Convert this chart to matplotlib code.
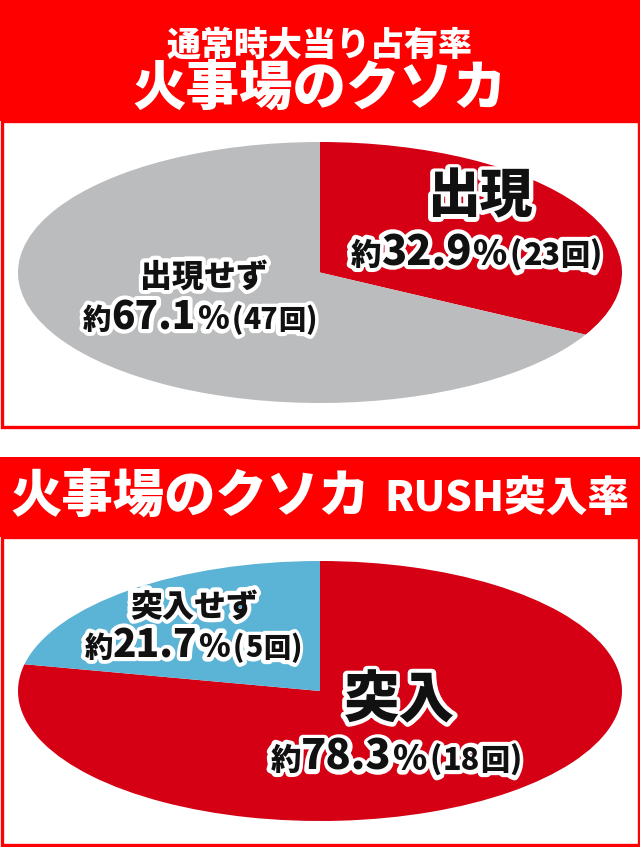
import matplotlib
matplotlib.use("Agg")
import matplotlib.pyplot as plt
import matplotlib.patheffects as pe
from matplotlib.patches import Rectangle

plt.rcParams['font.family'] = ['Noto Sans CJK JP', 'DejaVu Sans']

# ---- data ----
title1_sub = "通常時大当り占有率"
title1_main = "火事場のクソカ"
title2_main = "火事場のクソカ"
title2_sub = "RUSH突入率"

chart1_labels = ["出現", "出現せず"]
chart1_pct = [32.9, 67.1]
chart1_count = [23, 47]

chart2_labels = ["突入", "突入せず"]
chart2_pct = [78.3, 21.7]
chart2_count = [18, 5]

RED_HDR = "#FF0000"
RED_SLICE = "#D50014"
GRAY = "#BBBCBE"
BLUE = "#5BB3D6"

W, H = 640, 847
fig = plt.figure(figsize=(W / 100, H / 100), dpi=100)
bg = fig.add_axes([0, 0, 1, 1])
bg.set_xlim(0, W)
bg.set_ylim(H, 0)
bg.axis("off")

# header 1 + box 1
bg.add_patch(Rectangle((0, 0), W, 121, facecolor=RED_HDR, edgecolor="none"))
bg.add_patch(Rectangle((1.5, 121), W - 3, 306, facecolor="white", edgecolor=RED_HDR, linewidth=2.4))
# header 2 + box 2
bg.add_patch(Rectangle((0, 457), W, 80, facecolor=RED_HDR, edgecolor="none"))
bg.add_patch(Rectangle((1.5, 537), W - 3, H - 537 - 1.5, facecolor="white", edgecolor=RED_HDR, linewidth=2.4))

HW = 900
bg.text(320, 45, title1_sub, color="white", fontsize=24.5, fontweight=HW, ha="center", va="center")
bg.text(320, 89, title1_main, color="white", fontsize=38.5, fontweight=HW, ha="center", va="center")
bg.text(10, 497, title2_main, color="white", fontsize=37, fontweight=HW, ha="left", va="center")
bg.text(629, 499, title2_sub, color="white", fontsize=30, fontweight=HW, ha="right", va="center")


def pie_axes(x0, x1, y0, y1):
    return fig.add_axes([x0 / W, 1 - y1 / H, (x1 - x0) / W, (y1 - y0) / H])


def draw_pie(ax, vals, colors):
    ax.pie(vals, colors=colors, startangle=90, counterclock=False,
           wedgeprops=dict(linewidth=0), radius=1)
    ax.set_aspect("auto")
    ax.set_xlim(-1, 1)
    ax.set_ylim(-1, 1)
    ax.axis("off")


ax1 = pie_axes(18, 622, 142, 403)
draw_pie(ax1, chart1_pct, [RED_SLICE, GRAY])
ax2 = pie_axes(18, 622, 561, 821)
draw_pie(ax2, chart2_pct, [RED_SLICE, BLUE])

# overlay for labels (on top of pies)
ov = fig.add_axes([0, 0, 1, 1])
ov.set_xlim(0, W)
ov.set_ylim(H, 0)
ov.axis("off")
ov.patch.set_alpha(0)

renderer = fig.canvas.get_renderer()
STROKE_W = 6


def lbl(x, y, s, size):
    ov.text(x, y, s, color="white", fontsize=size, fontweight=HW, ha="center", va="center",
            path_effects=[pe.withStroke(linewidth=STROKE_W, foreground="white")], zorder=4)
    ov.text(x, y, s, color="#111111", fontsize=size, fontweight=HW,
            ha="center", va="center", zorder=5)


def pct_label(cx, baseline, p, n, scale):
    pieces = [("約", 22), (f"{p}", 30), ("%", 25), ("(", 22), (f"{n}", 22), ("回", 21), (")", 22)]
    gaps = [0, 0, 1, 3, 1, 0, 0]
    widths = []
    for s, sz in pieces:
        t = ov.text(0, 0, s, fontsize=sz * scale, fontweight=HW)
        widths.append(t.get_window_extent(renderer).width)
        t.remove()
    total = sum(widths) + sum(gaps) * scale
    x = cx - total / 2
    for (s, sz), w, g in zip(pieces, widths, gaps):
        x += g * scale
        ov.text(x, baseline, s, color="white", fontsize=sz * scale, fontweight=HW,
                ha="left", va="baseline",
                path_effects=[pe.withStroke(linewidth=STROKE_W, foreground="white")], zorder=4)
        ov.text(x, baseline, s, color="#111111", fontsize=sz * scale, fontweight=HW,
                ha="left", va="baseline", zorder=5)
        x += w


# chart 1
lbl(480, 197, chart1_labels[0], 38)
pct_label(476, 265, chart1_pct[0], chart1_count[0], 1.0)
lbl(204, 277, chart1_labels[1], 23)
pct_label(200, 329, chart1_pct[1], chart1_count[1], 0.93)
# chart 2
lbl(399, 701, chart2_labels[0], 40)
pct_label(396, 770, chart2_pct[0], chart2_count[0], 1.0)
lbl(194, 607, chart2_labels[1], 23)
pct_label(193, 657, chart2_pct[1], chart2_count[1], 0.93)

fig.savefig("out.png", dpi=100)
